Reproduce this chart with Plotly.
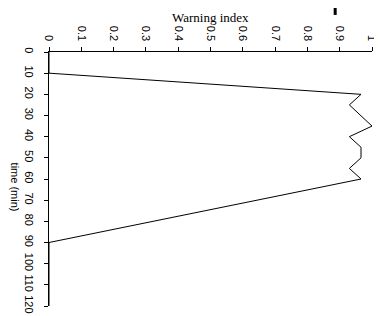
import plotly.graph_objects as go

time_min = [0, 10, 20, 25, 35, 40, 45, 50, 55, 60, 90, 120]
warning_index = [0, 0, 0.966, 0.93, 1.0, 0.93, 0.966, 0.966, 0.93, 0.966, 0, 0]
time_ticks = list(range(0, 121, 10))
index_ticks = [0, 0.1, 0.2, 0.3, 0.4, 0.5, 0.6, 0.7, 0.8, 0.9, 1]
index_labels = ["0", "0.1", "0.2", "0.3", "0.4", "0.5", "0.6", "0.7", "0.8", "0.9", "1"]

fig = go.Figure()
fig.add_trace(go.Scatter(x=warning_index, y=time_min, mode="lines",
                         line=dict(color="black", width=1), showlegend=False,
                         hoverinfo="skip", cliponaxis=False))

# page body has an 8px default margin, so figure is shrunk by 8px
fig.update_layout(
    width=374, height=308,
    margin=dict(l=41, r=10, t=44, b=10, autoexpand=False),
    paper_bgcolor="white", plot_bgcolor="white",
    font=dict(family="Liberation Sans, Arial, sans-serif", color="black", size=11),
    xaxis=dict(side="top", range=[0, 1], tickvals=index_ticks, ticktext=index_labels,
               tickangle=90, ticks="outside", ticklen=4, tickcolor="black",
               showline=True, linecolor="black", linewidth=1, showgrid=False,
               zeroline=False, tickfont=dict(size=11), ticklabelstandoff=2,
               automargin=False),
    yaxis=dict(range=[120, 0], tickvals=time_ticks, tickangle=90,
               ticks="outside", ticklen=4, tickcolor="black",
               showline=True, linecolor="black", linewidth=1, showgrid=False,
               zeroline=False, tickfont=dict(size=11), ticklabelstandoff=6,
               automargin=False),
)

fig.add_annotation(text="Warning index", xref="paper", yref="paper",
                   x=0.5, y=1, yshift=35, xanchor="center", yanchor="middle",
                   showarrow=False,
                   font=dict(family="Liberation Serif, Times New Roman, serif", size=13))
fig.add_annotation(text="time (min)", xref="paper", yref="paper",
                   x=0, xshift=-34, y=0.47, xanchor="center", yanchor="middle",
                   showarrow=False, textangle=90,
                   font=dict(size=11))
fig.add_shape(type="line", xref="paper", yref="paper",
              x0=0.886, x1=0.886, y0=1.146, y1=1.205,
              line=dict(color="black", width=3))

fig.write_html("out.html")
